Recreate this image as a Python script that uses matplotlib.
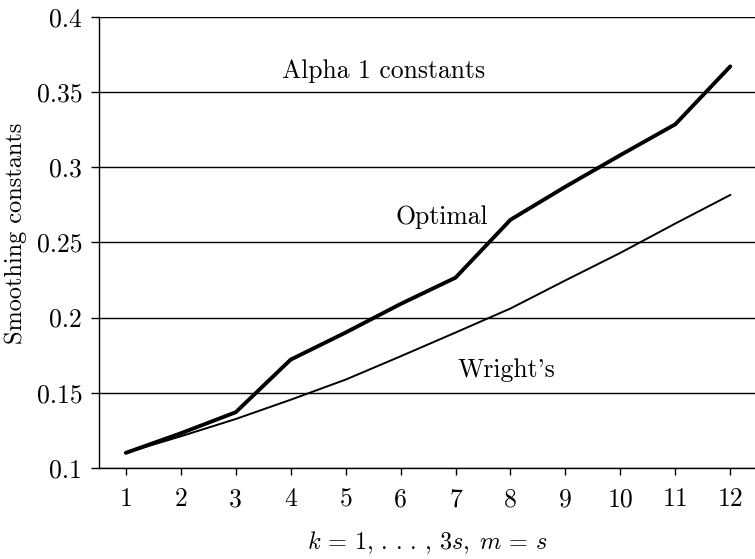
import matplotlib
matplotlib.use("Agg")
import matplotlib.pyplot as plt

plt.rcParams['font.family'] = ['cmr10', 'DejaVu Serif']
plt.rcParams['mathtext.fontset'] = 'cm'
plt.rcParams['axes.formatter.use_mathtext'] = True

k = [1, 2, 3, 4, 5, 6, 7, 8, 9, 10, 11, 12]
optimal = [0.110, 0.123, 0.137, 0.172, 0.190, 0.209, 0.2265, 0.265, 0.287, 0.308, 0.3285, 0.367]
wright = [0.110, 0.121, 0.1325, 0.1453, 0.1587, 0.1742, 0.190, 0.206, 0.2247, 0.243, 0.2625, 0.2815]
yticks = [0.1, 0.15, 0.2, 0.25, 0.3, 0.35, 0.4]
ytick_labels = ['0.1', '0.15', '0.2', '0.25', '0.3', '0.35', '0.4']

fig = plt.figure(figsize=(7.55, 5.59), dpi=100)
ax = fig.add_axes([0.131, 0.163, 0.869, 0.807])

for y in yticks:
    ax.axhline(y, color='black', lw=1.0, zorder=1)

ax.plot(k, optimal, color='black', lw=2.8, solid_capstyle='round', zorder=3)
ax.plot(k, wright, color='black', lw=1.4, zorder=3)

ax.set_xlim(0.51, 12.45)
ax.set_ylim(0.1, 0.4)
ax.set_xticks(k)
ax.set_xticklabels([str(v) for v in k])
ax.set_yticks(yticks)
ax.set_yticklabels(ytick_labels)
ax.tick_params(axis='both', labelsize=18.5, direction='out', color='black')
ax.tick_params(axis='y', length=6, width=1, pad=6)
ax.tick_params(axis='x', length=5, width=1, pad=9)

for s in ['top', 'right']:
    ax.spines[s].set_visible(False)
ax.spines['left'].set_linewidth(1.0)
ax.spines['bottom'].set_linewidth(1.0)

ax.text(5.69, 0.364, 'Alpha 1 constants', fontsize=18.5, ha='center', va='center')
ax.text(6.75, 0.2667, 'Optimal', fontsize=18.5, ha='center', va='center')
ax.text(7.93, 0.1653, "Wright's", fontsize=18.5, ha='center', va='center')

ax.set_xlabel(r'$k\,=\,1,\,.\,.\,.\,,\,3s,\; m\,=\,s$', fontsize=17.5, labelpad=13)
ax.set_ylabel('Smoothing constants', fontsize=17.5, labelpad=8)
ax.yaxis.set_label_coords(-0.11, 0.52)

fig.savefig('out.png', dpi=100)
